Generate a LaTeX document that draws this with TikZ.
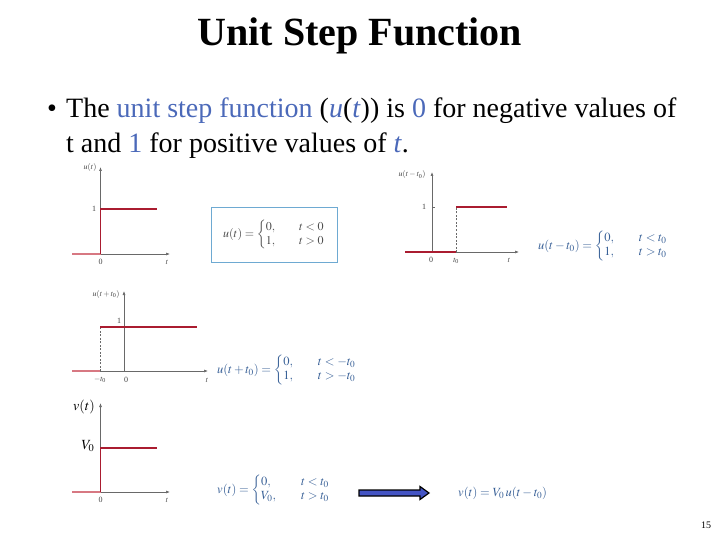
\documentclass[tikz,border=0pt]{standalone}
\usepackage{amsmath}
\usepackage{mathptmx}
\usepackage[no-math]{fontspec}
\setmainfont{Liberation Serif}
\usetikzlibrary{arrows.meta}
\definecolor{stepred}{RGB}{170,28,48}
\definecolor{steppink}{RGB}{215,120,130}
\definecolor{axisgray}{RGB}{105,105,105}
\definecolor{textblue}{RGB}{75,105,185}
\definecolor{eqblue}{RGB}{55,95,150}
\definecolor{boxblue}{RGB}{110,170,210}
\definecolor{arrowblue}{RGB}{68,84,196}
\newcommand{\casesof}[4]{\left\{\renewcommand{\arraystretch}{1.0}\begin{array}{@{}l@{\qquad}l@{}}#1 & #2\\ #3 & #4\end{array}\right.}
\begin{document}
\begin{tikzpicture}[x=1pt,y=-1pt,
  axis/.style={draw=axisgray, line width=0.6pt, -{Latex[length=4pt,width=3pt]}},
  stepline/.style={draw=stepred, line width=1.3pt},
  lowline/.style={draw=steppink, line width=1.3pt},
  dashline/.style={draw=axisgray, dash pattern=on 2pt off 1.5pt, line width=0.4pt},
  lbl/.style={font=\fontsize{8}{9}\selectfont, text=black!75, inner sep=1pt},
  eq/.style={font=\fontsize{12.5}{14}\selectfont, text=eqblue, inner sep=0pt},
  bodytext/.style={font=\fontsize{28}{33}\selectfont, inner sep=0pt, anchor=base west}]
\useasboundingbox (0,0) rectangle (720,540);

% title and text
\node[font=\fontsize{40}{46}\bfseries\selectfont, inner sep=0pt, anchor=base] (title) at (360,46) {Unit Step Function};
\node[bodytext] (bullet) at (47,118) {\textbullet};
\node[bodytext] (line1) at (66,118) {The \textcolor{textblue}{unit step function} (\textcolor{textblue}{\textit{u}}(\textcolor{textblue}{\textit{t}})) is \textcolor{textblue}{0} for negative values of};
\node[bodytext] (line2) at (66,153) {t and \textcolor{textblue}{1} for positive values of \textcolor{textblue}{\textit{t}}.};

% graph 1: u(t)
\coordinate (g1o) at (100.5,254);
\coordinate (g1l) at (72,254);
\coordinate (g1r) at (170,254);
\coordinate (g1t) at (100.5,167);
\coordinate (g1s) at (100.5,209);
\coordinate (g1e) at (157,209);
\draw[axis] (g1l) -- (g1r);
\draw[axis] (g1o) -- (g1t);
\draw[lowline] (g1l) -- (g1o);
\draw[stepline] (g1o) -- (g1s) -- (g1e);
\node[lbl] (g1y) at (90,168) {$u(t)$};
\node[lbl] (g1one) at (94,209) {1};
\node[lbl] (g1zero) at (100.5,262) {0};
\node[lbl] (g1tl) at (167,262) {$t$};
\node[draw=boxblue, line width=0.8pt, minimum width=126pt, minimum height=55pt, inner sep=0pt,
      font=\fontsize{12}{14}\selectfont, text=black!70] (box1) at (274,234.5)
      {$u(t)=\casesof{0,}{t<0}{1,}{t>0}$};

% graph 2: u(t - t0)
\coordinate (g2o) at (432,252);
\coordinate (g2l) at (405,252);
\coordinate (g2r) at (519,252);
\coordinate (g2t) at (432,172);
\coordinate (g2a) at (456,252);
\coordinate (g2b) at (456,207);
\coordinate (g2e) at (507,207);
\coordinate (g2s) at (432,207);
\coordinate (g2k) at (435,207);
\draw[axis] (g2l) -- (g2r);
\draw[axis] (g2o) -- (g2t);
\draw[draw=axisgray, line width=0.6pt] (g2s) -- (g2k);
\draw[stepline, line width=1.6pt] (g2l) -- (g2a);
\draw[dashline] (g2a) -- (g2b);
\draw[stepline, line width=1.6pt] (g2b) -- (g2e);
\node[lbl] (g2y) at (412,175) {$u(t-t_0)$};
\node[lbl] (g2one) at (424,207) {1};
\node[lbl] (g2zero) at (431,260) {0};
\node[lbl] (g2t0) at (456,261) {$t_0$};
\node[lbl] (g2tl) at (509,260) {$t$};
\node[eq, anchor=west] (eq2) at (538,246) {$u(t-t_0)=\casesof{0,}{t<t_0}{1,}{t>t_0}$};

% graph 3: u(t + t0)
\coordinate (g3o) at (124,371);
\coordinate (g3l) at (72,371);
\coordinate (g3r) at (208,371);
\coordinate (g3t) at (124,291);
\coordinate (g3a) at (100,371);
\coordinate (g3b) at (100,327);
\coordinate (g3e) at (197,327);
\draw[axis] (g3l) -- (g3r);
\draw[axis] (g3o) -- (g3t);
\draw[lowline] (g3l) -- (g3a);
\draw[dashline] (g3a) -- (g3b);
\draw[stepline] (g3b) -- (g3e);
\node[lbl] (g3y) at (106,294) {$u(t+t_0)$};
\node[lbl] (g3one) at (119,321) {1};
\node[lbl] (g3mt0) at (100,380) {$-t_0$};
\node[lbl] (g3zero) at (126,380) {0};
\node[lbl] (g3tl) at (207,380) {$t$};
\node[eq, anchor=west] (eq3) at (217,370) {$u(t+t_0)=\casesof{0,}{t<-t_0}{1,}{t>-t_0}$};

% graph 4: v(t)
\coordinate (g4o) at (100.5,492);
\coordinate (g4l) at (72,492);
\coordinate (g4r) at (170,492);
\coordinate (g4t) at (100.5,403);
\coordinate (g4s) at (100.5,448);
\coordinate (g4e) at (157,448);
\draw[axis] (g4l) -- (g4r);
\draw[axis] (g4o) -- (g4t);
\draw[lowline] (g4l) -- (g4o);
\draw[stepline] (g4o) -- (g4s) -- (g4e);
\node[font=\fontsize{14}{16}\selectfont, inner sep=0pt] (g4y) at (84,407) {$v(t)$};
\node[font=\fontsize{14}{16}\selectfont, inner sep=0pt] (g4v0) at (88,446) {$V_0$};
\node[lbl] (g4zero) at (100.5,500) {0};
\node[lbl] (g4tl) at (167,500) {$t$};
\node[eq, anchor=west] (eq4) at (217,490) {$v(t)=\casesof{0,}{t<t_0}{V_0,}{t>t_0}$};

% block arrow and result
\filldraw[draw=black, line width=1.2pt, fill=arrowblue]
  (359,490) -- (420,490) -- (420,486.5) -- (429,493) -- (420,499.5) -- (420,496) -- (359,496) -- cycle;
\node[eq, anchor=west] (eq5) at (458,493) {$v(t)=V_0\,u(t-t_0)$};

\node[font=\fontsize{10}{12}\selectfont, inner sep=0pt] (pagenum) at (706,525) {15};
\end{tikzpicture}
\end{document}
